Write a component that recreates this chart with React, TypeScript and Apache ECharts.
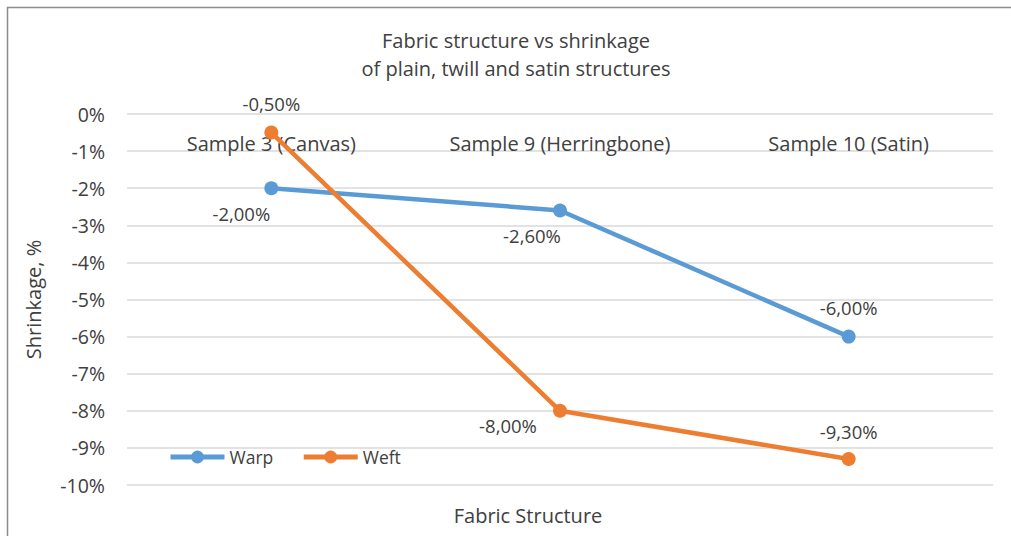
import React, { useEffect, useRef } from "react";
import * as echarts from "echarts";

const categories = ["Sample 3 (Canvas)", "Sample 9 (Herringbone)", "Sample 10 (Satin)"];
const warpValues = [-2.0, -2.6, -6.0];
const weftValues = [-0.5, -8.0, -9.3];
const seriesNames = ["Warp", "Weft"];
const titleLines = ["Fabric structure vs shrinkage", "of plain, twill and satin structures"];
const yAxisName = "Shrinkage, %";
const xAxisName = "Fabric Structure";

const FONT = "'Open Sans', 'Noto Sans', sans-serif";
const TEXT = "#404040";

const warpOffsets = [[-30, 25], [-28, 25], [0, -29]];
const weftOffsets = [[0, -29], [-52, 15], [0, -28]];

const fmt = (v: number) => v.toFixed(2).replace(".", ",") + "%";

export default function App() {
  const ref = useRef<HTMLDivElement>(null);
  useEffect(() => {
    if (!ref.current) return;
    const chart = echarts.init(ref.current, undefined, { renderer: "svg" });
    const mk = (vals: number[], offs: number[][]) =>
      vals.map((v, i) => ({
        value: v,
        label: { show: true, position: "inside", offset: offs[i], formatter: () => fmt(v) },
      }));
    chart.setOption({
      animation: false,
      backgroundColor: "#ffffff",
      title: {
        text: titleLines.join("\n"),
        left: 511,
        top: 21,
        textAlign: "center",
        textStyle: { fontFamily: FONT, fontSize: 20, fontWeight: "normal", color: TEXT, lineHeight: 28 },
      },
      grid: { left: 127, right: 18, top: 114, bottom: 51 },
      legend: {
        left: 163,
        top: 443,
        itemWidth: 54,
        itemHeight: 16,
        itemGap: 28,
        lineStyle: { width: 5 },
        textStyle: { fontFamily: FONT, fontSize: 17.5, color: TEXT },
        data: seriesNames,
      },
      xAxis: {
        type: "category",
        position: "top",
        data: categories,
        boundaryGap: true,
        axisLine: { show: false },
        axisTick: { show: false },
        axisLabel: {
          inside: true,
          margin: 19,
          fontFamily: FONT,
          fontSize: 20,
          color: TEXT,
          verticalAlign: "top",
        },
      },
      yAxis: {
        type: "value",
        min: -10,
        max: 0,
        interval: 1,
        name: yAxisName,
        nameLocation: "middle",
        nameGap: 84,
        nameRotate: 90,
        nameTextStyle: { fontFamily: FONT, fontSize: 20, color: TEXT },
        axisLine: { show: false },
        axisTick: { show: false },
        axisLabel: {
          margin: 22,
          fontFamily: FONT,
          fontSize: 19.5,
          color: TEXT,
          formatter: (v: number) => v + "%",
        },
        splitLine: { lineStyle: { color: "#d9d9d9", width: 1.5 } },
      },
      graphic: [
        {
          type: "rect",
          shape: { x: 7.5, y: 7.5, width: 1100, height: 600 },
          style: { fill: "none", stroke: "#8c8c8c", lineWidth: 1.5 },
          silent: true,
        },
        {
          type: "text",
          x: 528,
          y: 515,
          style: {
            text: xAxisName,
            fontFamily: FONT,
            fontSize: 20,
            fill: TEXT,
            align: "center",
            verticalAlign: "middle",
          },
        },
      ],
      series: [
        {
          name: seriesNames[0],
          type: "line",
          data: mk(warpValues, warpOffsets),
          symbol: "circle",
          symbolSize: 14,
          lineStyle: { color: "#5B9BD5", width: 4.5 },
          itemStyle: { color: "#5B9BD5" },
          label: { fontFamily: FONT, fontSize: 18.5, color: TEXT },
        },
        {
          name: seriesNames[1],
          type: "line",
          data: mk(weftValues, weftOffsets),
          symbol: "circle",
          symbolSize: 14,
          lineStyle: { color: "#ED7D31", width: 4.5 },
          itemStyle: { color: "#ED7D31" },
          label: { fontFamily: FONT, fontSize: 18.5, color: TEXT },
        },
      ],
    });
    return () => chart.dispose();
  }, []);
  return (
    <div
      ref={ref}
      style={{ position: "absolute", left: 0, top: 0, width: 1011, height: 536 }}
    />
  );
}
